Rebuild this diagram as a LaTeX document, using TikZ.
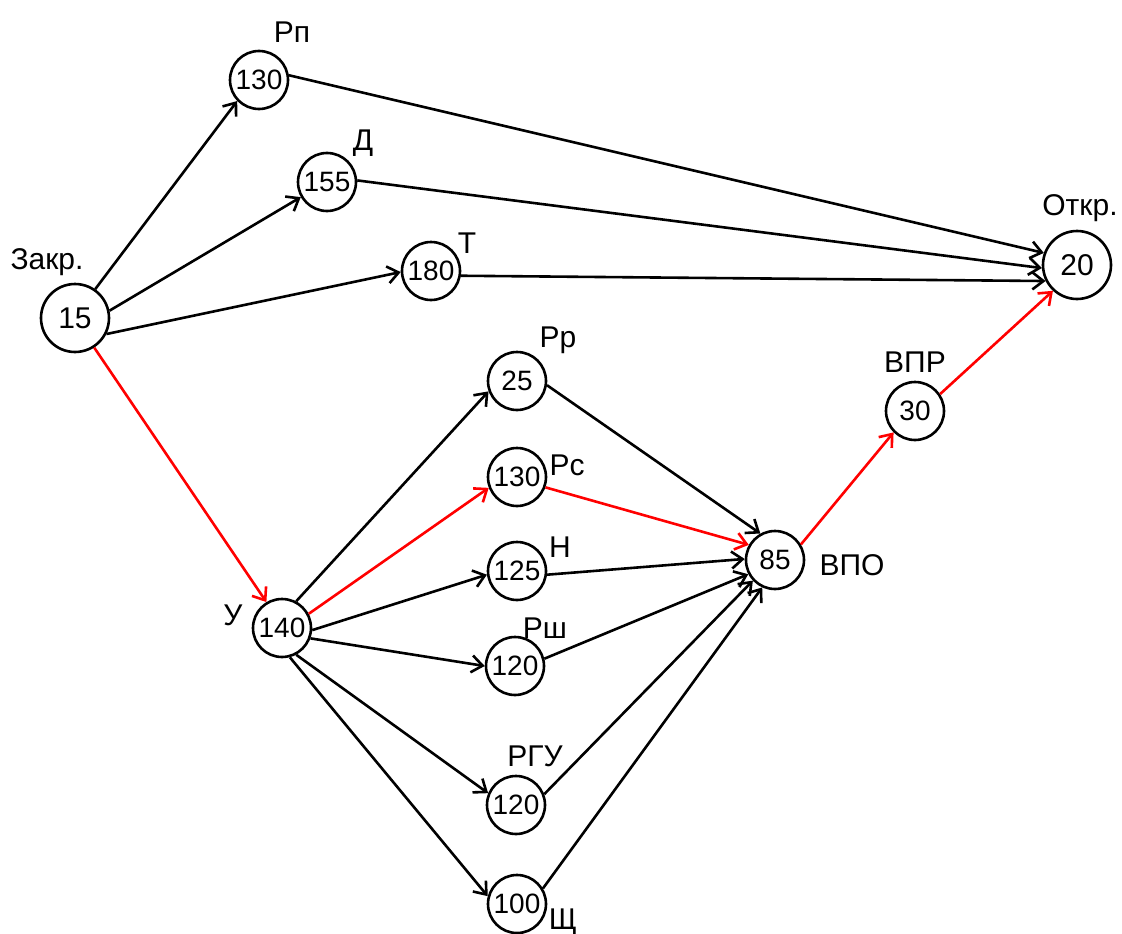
\documentclass[tikz,border=0pt]{standalone}
\usepackage{fontspec}
\setmainfont{Liberation Sans}
\usetikzlibrary{arrows.meta}
\begin{document}
\begin{tikzpicture}[x=1pt,y=-1pt,
  nd/.style={circle,draw,line width=2.6pt,minimum size=58pt,inner sep=0pt,font=\fontsize{28}{28}\selectfont},
  big/.style={minimum size=68pt,font=\fontsize{30}{30}\selectfont},
  lb/.style={font=\fontsize{30}{30}\selectfont,inner sep=0pt},
  ar/.style={line width=2.6pt,-{Straight Barb[length=11pt,width=17pt,line width=2.6pt]}},
  crit/.style={ar,draw=red}]
\fill[white] (0,0) rectangle (1122,934);
\useasboundingbox (0,0) rectangle (1122,934);
% nodes
\node[nd,big] (z) at (75,318) {15};
\node[nd] (rp) at (259,80) {130};
\node[nd] (d) at (327,182) {155};
\node[nd] (t) at (431,271) {180};
\node[nd,big] (o) at (1077,265) {20};
\node[nd] (rr) at (517,381) {25};
\node[nd] (rs) at (517,477) {130};
\node[nd] (h) at (517,571) {125};
\node[nd] (rsh) at (515,666) {120};
\node[nd] (rgu) at (516,805) {120};
\node[nd] (sh) at (517,904) {100};
\node[nd] (u) at (282,628) {140};
\node[nd] (vpo) at (775,560) {85};
\node[nd] (vpr) at (915,411) {30};
% labels
\node[lb] (lz) at (47,262) {Закр.};
\node[lb] (lrp) at (292,32) {Рп};
\node[lb] (ld) at (363,143) {Д};
\node[lb] (lt) at (467,243) {Т};
\node[lb] (lo) at (1080,208) {Откр.};
\node[lb] (lrr) at (558,340) {Рр};
\node[lb] (lrs) at (567,465) {Рс};
\node[lb] (lh) at (560,547) {Н};
\node[lb] (lrsh) at (545,628) {Рш};
\node[lb] (lrgu) at (535,756) {РГУ};
\node[lb] (lsh) at (563,922) {Щ};
\node[lb] (lu) at (233,615) {У};
\node[lb] (lvpo) at (852,565) {ВПО};
\node[lb] (lvpr) at (915,362) {ВПР};
% edges
\draw[ar] (z.55) -- (rp.224);
\draw[ar] (z.12) -- (d.210);
\draw[ar] (z.-27) -- (t.182);
\draw[crit] (z.-57) -- (u.121);
\draw[ar] (rp.9) -- (o.160);
\draw[ar] (d.3) -- (o.185);
\draw[ar] (t.-9) -- (o.207);
\draw[ar] (u.62) -- (rr.200);
\draw[crit] (u.28) -- (rs.201);
\draw[ar] (u.-4) -- (h.187);
\draw[ar] (u.-20) -- (rsh.180);
\draw[ar] (u.-62) -- (rgu.157);
\draw[ar] (u.-75) -- (sh.165);
\draw[ar] (rr.-8) -- (vpo.119);
\draw[crit] (rs.-20) -- (vpo.150);
\draw[ar] (h.-7) -- (vpo.178);
\draw[ar] (rsh.14) -- (vpo.208);
\draw[ar] (rgu.21) -- (vpo.223);
\draw[ar] (sh.31) -- (vpo.245);
\draw[crit] (vpo.31) -- (vpr.225);
\draw[crit] (vpr.34) -- (o.227);
\end{tikzpicture}
\end{document}
